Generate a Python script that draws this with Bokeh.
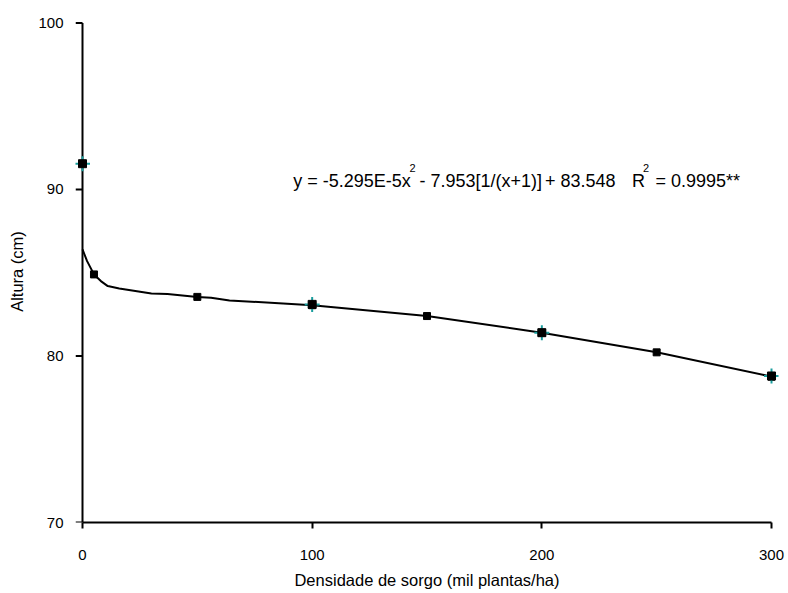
from bokeh.plotting import figure
from bokeh.models import Label, FixedTicker, Range1d
from bokeh.embed import file_html
from bokeh.resources import INLINE

# Fitted curve
curve_x = [0, 2, 5, 8, 11, 16, 30, 37, 50, 56, 64, 100, 150, 200, 250, 300]
curve_y = [86.4, 85.7, 84.9, 84.5, 84.2, 84.06, 83.76, 83.73, 83.55, 83.5, 83.34, 83.05, 82.4, 81.4, 80.22, 78.76]

# Curve markers (black squares)
mark_x = [5, 50, 100, 150, 200, 250, 300]
mark_y = [84.9, 83.55, 83.05, 82.4, 81.4, 80.22, 78.76]

# Observed values
obs_x = [0, 100, 200, 300]
obs_y = [91.55, 83.1, 81.4, 78.8]

x_ticks = [0, 100, 200, 300]
y_ticks = [70, 80, 90, 100]

FONT = "Liberation Sans"
X_LO, X_HI = -3.048, 303.048

p = figure(width=788, height=593, output_backend="svg", toolbar_location=None,
           x_range=Range1d(X_LO, X_HI), y_range=Range1d(70, 100.15),
           min_border_left=75, min_border_right=10, min_border_top=20, min_border_bottom=71)
p.outline_line_color = None
p.xgrid.visible = False
p.ygrid.visible = False
p.background_fill_color = "white"

# y axis line at x = 0 with outward ticks
p.segment(x0=[0], y0=[70], x1=[0], y1=[100], line_color="black", line_width=2)
p.segment(x0=[X_LO] * len(y_ticks), y0=y_ticks, x1=[0] * len(y_ticks), y1=y_ticks,
          line_color="black", line_width=2)

p.line(curve_x, curve_y, line_color="black", line_width=2)
p.scatter(mark_x, mark_y, marker="square", size=7, fill_color="black", line_color="black")
p.scatter(obs_x, obs_y, marker="cross", size=15, line_color="#1a9e9e", line_width=2)
p.scatter(obs_x, obs_y, marker="square", size=8, fill_color="black", line_color="black")

# Regression equation
main_size = "18px"
sup_size = "11px"
eq_base = 90.50
sup_base = 91.30
eq_parts = [
    (91.74, "y = -5.295E-5x", main_size, eq_base, "left"),
    (142.4, "2", sup_size, sup_base, "left"),
    (146.7, "- 7.953[1/(x+1)]", main_size, eq_base, "left"),
    (232.1, "+ 83.548", main_size, eq_base, "right"),
    (239.3, "R", main_size, eq_base, "left"),
    (244.0, "2", sup_size, sup_base, "left"),
    (249.5, "= 0.9995**", main_size, eq_base, "left"),
]
for ex, txt, fs, ey, al in eq_parts:
    p.add_layout(Label(x=ex, y=ey, text=txt, text_font=FONT, text_font_size=fs,
                       text_color="black", text_baseline="alphabetic", text_align=al))

for ax in (p.xaxis[0], p.yaxis[0]):
    ax.axis_line_color = "black"
    ax.axis_line_width = 2
    ax.major_tick_line_color = "black"
    ax.major_tick_line_width = 2
    ax.minor_tick_line_color = None
    ax.major_label_text_font = FONT
    ax.major_label_text_font_size = "15px"
    ax.major_label_text_color = "black"
    ax.axis_label_text_font = FONT
    ax.axis_label_text_font_size = "16.5px"
    ax.axis_label_text_font_style = "normal"
    ax.axis_label_text_color = "black"

p.xaxis.ticker = FixedTicker(ticks=x_ticks)
p.yaxis.ticker = FixedTicker(ticks=y_ticks)
p.xaxis.bounds = (0, 300)
p.xaxis.major_tick_in = 0
p.xaxis.major_tick_out = 6
p.xaxis.major_label_standoff = 21
p.xaxis.axis_label = "Densidade de sorgo (mil plantas/ha)"
p.xaxis.axis_label_standoff = 8

p.yaxis.axis_line_color = None
p.yaxis.major_tick_line_color = None
p.yaxis.major_tick_in = 0
p.yaxis.major_tick_out = 0
p.yaxis.major_label_standoff = 12
p.yaxis.axis_label = "Altura (cm)"
p.yaxis.axis_label_standoff = 9

open("out.html", "w").write(file_html(p, INLINE))
